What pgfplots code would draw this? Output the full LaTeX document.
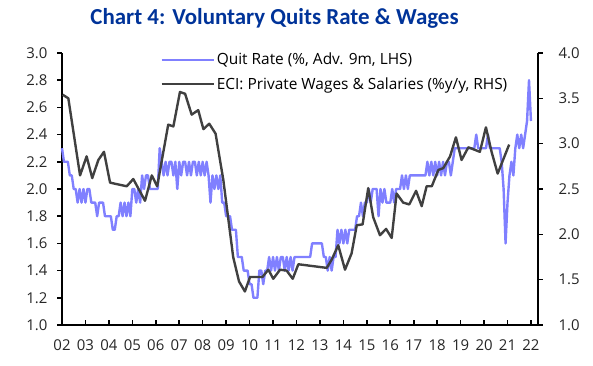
\documentclass[border=0pt]{standalone}
\usepackage{pgfplots}
\usepackage{pgfplotstable}
\pgfplotsset{compat=1.18}
\usepackage{fontspec}
\setmainfont{Open Sans}
\newfontfamily\titlefont{Carlito}
\definecolor{quitc}{RGB}{128,128,255}
\definecolor{ecic}{RGB}{64,64,64}
\definecolor{titlec}{RGB}{0,51,153}

\pgfplotstableread{
q
2.3
2.2
2.2
2.2
2.1
2.1
2.0
2.0
1.9
2.0
1.9
2.0
1.9
2.0
2.0
1.9
1.9
1.9
1.8
1.9
1.9
1.9
1.8
1.8
1.8
1.8
1.7
1.7
1.8
1.8
1.9
1.8
1.9
1.8
1.9
1.8
2.0
2.0
1.9
2.0
1.9
2.1
2.0
2.1
2.1
2.0
2.0
2.0
2.0
2.0
2.3
2.2
2.1
2.2
2.1
2.2
2.2
2.1
2.2
2.0
2.2
2.1
2.2
2.2
2.1
2.2
2.1
2.2
2.2
2.1
2.2
2.1
2.2
2.1
2.2
2.1
1.9
2.1
2.0
2.1
2.0
2.1
1.9
1.9
1.8
1.8
1.8
1.7
1.7
1.7
1.5
1.5
1.5
1.4
1.4
1.4
1.3
1.3
1.2
1.2
1.2
1.4
1.4
1.3
1.4
1.4
1.5
1.4
1.5
1.4
1.5
1.4
1.5
1.5
1.4
1.5
1.4
1.5
1.4
1.5
1.5
1.5
1.5
1.5
1.5
1.5
1.5
1.5
1.6
1.6
1.6
1.6
1.6
1.6
1.5
1.5
1.4
1.5
1.4
1.5
1.5
1.7
1.6
1.7
1.6
1.7
1.6
1.7
1.7
1.7
1.7
1.8
1.8
1.9
1.8
1.9
1.9
2.0
1.9
2.0
2.0
2.0
1.8
2.0
1.9
2.0
1.9
1.9
1.9
2.0
1.9
2.0
2.0
2.0
2.1
2.0
2.1
2.0
2.1
2.1
2.1
2.1
2.1
2.1
2.1
2.1
2.1
2.2
2.1
2.2
2.1
2.2
2.1
2.2
2.1
2.2
2.1
2.2
2.2
2.1
2.2
2.3
2.3
2.3
2.3
2.3
2.3
2.3
2.3
2.3
2.3
2.3
2.4
2.3
2.3
2.3
2.3
2.3
2.4
2.3
2.3
2.3
2.3
2.3
2.3
2.2
2.0
1.6
1.9
2.1
2.2
2.1
2.3
2.4
2.3
2.4
2.3
2.4
2.5
2.8
2.5
}\quits

\pgfplotstableread{
x y
2002.03 3.54
2002.27 3.50
2002.77 2.65
2003.05 2.86
2003.29 2.62
2003.55 2.82
2003.79 2.91
2004.05 2.57
2004.76 2.53
2005.04 2.61
2005.54 2.37
2005.83 2.65
2006.06 2.53
2006.53 3.21
2006.75 3.19
2007.03 3.57
2007.25 3.55
2007.53 3.32
2007.81 3.37
2008.03 3.16
2008.28 3.22
2008.55 3.11
2008.88 2.60
2009.30 1.75
2009.55 1.48
2009.80 1.37
2010.02 1.53
2010.55 1.53
2010.80 1.61
2011.01 1.51
2011.30 1.61
2011.58 1.60
2011.84 1.51
2012.08 1.67
2013.29 1.63
2013.50 1.72
2013.78 1.88
2014.07 1.61
2014.35 1.79
2014.57 2.10
2014.82 2.11
2015.06 2.51
2015.27 2.19
2015.56 1.99
2015.82 2.06
2016.06 1.96
2016.27 2.45
2016.55 2.35
2016.81 2.33
2017.10 2.48
2017.34 2.31
2017.55 2.53
2017.77 2.53
2018.05 2.71
2018.26 2.73
2018.55 2.86
2018.80 3.07
2019.04 2.82
2019.33 2.96
2019.82 2.91
2020.08 3.18
2020.32 2.91
2020.58 2.67
2021.07 2.99
}\eci

\pgfplotsset{
  base/.style={
    scale only axis,
    width=476bp, height=272bp,
    at={(62bp,41bp)}, anchor=south west,
    xmin=2002, xmax=2022.3,
    axis line style={line width=1.6pt, black},
    major tick length=5bp,
    every tick/.style={line width=1.6pt, black},
    tick label style={font=\fontsize{15}{16}\selectfont, text=black!85},
    /pgf/number format/assume math mode=true,
  },
}

\begin{document}
\begin{tikzpicture}
\useasboundingbox (0,0) rectangle (593bp,366bp);
\node[font=\titlefont\fontsize{23}{26}\selectfont\bfseries, text=titlec] at (274.5bp,348bp) {Chart 4: Voluntary Quits Rate \& Wages};

\begin{axis}[base,
  axis x line*=bottom, axis y line*=left,
  xtick={2002,2003,...,2022},
  xticklabels={02,03,04,05,06,07,08,09,10,11,12,13,14,15,16,17,18,19,20,21,22},
  xtick align=inside,
  ytick align=outside,
  ymin=1, ymax=3,
  ytick={1,1.2,...,3.01},
  yticklabel style={/pgf/number format/fixed, /pgf/number format/fixed zerofill, /pgf/number format/precision=1, xshift=-6bp},
  xticklabel style={yshift=-11bp},
  clip=false,
]
\addplot[quitc, line width=2.4pt, line join=round] table[x expr=2002+\coordindex/12, y=q] {\quits};
\end{axis}

\begin{axis}[base,
  axis x line=none, axis y line*=right,
  ytick align=outside,
  ymin=1, ymax=4,
  ytick={1,1.5,...,4.01},
  yticklabel style={/pgf/number format/fixed, /pgf/number format/fixed zerofill, /pgf/number format/precision=1, xshift=12bp},
  legend style={at={(0.2,1.015)}, anchor=north west, draw=none, fill=none,
    font=\fontsize{15.5}{17}\selectfont, row sep=7bp},
  legend cell align=left,
  legend image code/.code={\draw[#1] (0bp,0bp) -- (52bp,0bp);},
]
\addlegendimage{quitc, line width=2.4pt}
\addlegendentry{Quit Rate (\%, Adv. 9m, LHS)}
\addplot[ecic, line width=2.4pt, line join=round] table[x=x, y=y] {\eci};
\addlegendentry{ECI: Private Wages \& Salaries (\%y/y, RHS)}
\end{axis}
\end{tikzpicture}
\end{document}
